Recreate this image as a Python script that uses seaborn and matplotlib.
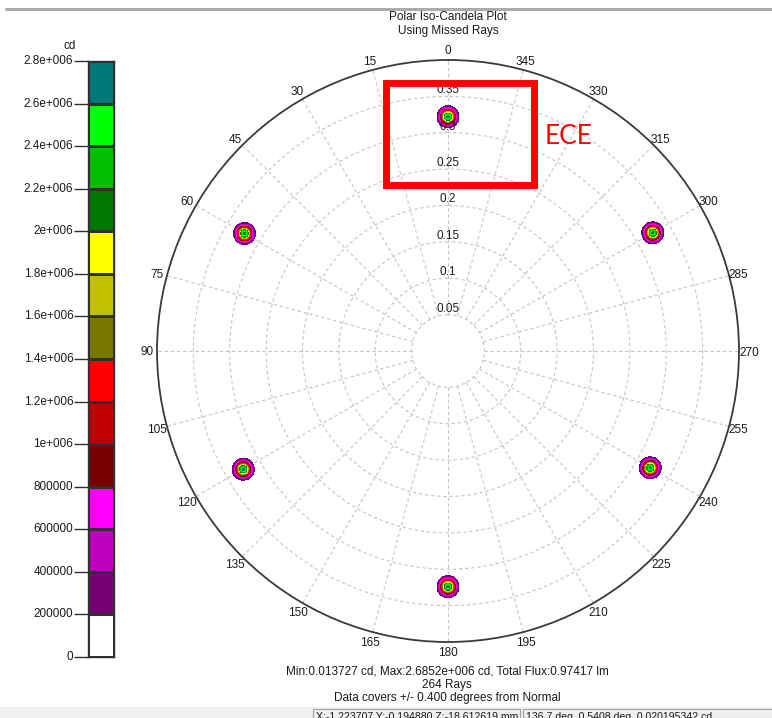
import numpy as np
import matplotlib
matplotlib.use("Agg")
import matplotlib.pyplot as plt
import seaborn as sns
from matplotlib.colors import ListedColormap, BoundaryNorm
from matplotlib.patches import Rectangle
from matplotlib.lines import Line2D

sns.set_theme(style="white")
plt.rcParams["font.family"] = ["Liberation Sans", "DejaVu Sans"]

# ---- data -------------------------------------------------------------
# candela bands (cd) and their fill colours
level_edges = [0, 200000, 400000, 600000, 800000, 1000000, 1200000, 1400000,
               1600000, 1800000, 2000000, 2200000, 2400000, 2600000, 2800000]
level_colors = ["#ffffff", "#740074", "#c000c0", "#ff00ff", "#780000", "#c00000",
                "#ff0000", "#787800", "#c0c000", "#ffff00", "#007800", "#00c000",
                "#00ff00", "#007878"]
level_labels = ["0", "200000", "400000", "600000", "800000", "1e+006", "1.2e+006",
                "1.4e+006", "1.6e+006", "1.8e+006", "2e+006", "2.2e+006",
                "2.4e+006", "2.6e+006", "2.8e+006"]

# six beam spots: azimuth (deg), polar angle from normal (deg), peak (cd), spot sigma (deg)
spot_azimuth = [0, 60, 120, 180, 240, 300]
spot_radius = [0.322, 0.323, 0.325, 0.324, 0.321, 0.325]
spot_peak = [2685200, 2660000, 2650000, 2670000, 2640000, 2655000]
spot_sigma = [0.0066, 0.0066, 0.0066, 0.0066, 0.0066, 0.0066]

ring_values = [0.05, 0.1, 0.15, 0.2, 0.25, 0.3, 0.35]
ring_labels = ["0.05", "0.1", "0.15", "0.2", "0.25", "0.3", "0.35"]
theta_ticks = list(range(0, 360, 15))
r_max = 0.4

title_lines = "Polar Iso-Candela Plot\nUsing Missed Rays"
summary_lines = ["Min:0.013727 cd, Max:2.6852e+006 cd, Total Flux:0.97417 lm",
                 "264 Rays",
                 "Data covers +/- 0.400 degrees from Normal"]
status_left = "X:-1.223707 Y:-0.194880 Z:-18.612619 mm"
status_right = "136.7 deg, 0.5408 deg, 0.020195342 cd"

# ---- figure -----------------------------------------------------------
W, H = 772, 718
fig = plt.figure(figsize=(W / 100, H / 100), dpi=100)
fig.patch.set_facecolor("white")


def fx(px):
    return px / W


def fy(py):
    return 1 - py / H


FS = 8.5
TXT = "#1a1a1a"

# polar iso-candela axes
ax = fig.add_axes([fx(157), fy(642), fx(582), 582 / H], projection="polar")
ax.set_theta_zero_location("N")
ax.set_theta_direction(1)
ax.set_ylim(0, r_max)
ax.set_facecolor("white")
ax.grid(False)
ax.set_yticks([])
ax.set_xticks(np.deg2rad(theta_ticks))
ax.set_xticklabels([str(t) for t in theta_ticks], fontsize=FS, color=TXT)
for lab in ax.get_xticklabels():
    lab.set_va("center_baseline")
ax.tick_params(axis="x", pad=-5.8)
ax.spines["polar"].set_color("#3a3a3a")
ax.spines["polar"].set_linewidth(1.3)

grid_kw = dict(color="#c4c4c4", linestyle=(0, (3, 2.5)), linewidth=0.8, zorder=1)
circ = np.linspace(0, 2 * np.pi, 721)
for rv in ring_values:
    ax.plot(circ, np.full_like(circ, rv), **grid_kw)
for t in theta_ticks:
    ax.plot([np.deg2rad(t)] * 2, [ring_values[0], r_max], **grid_kw)
for rv, lab in zip(ring_values, ring_labels):
    ax.text(0, rv, lab, ha="center", va="bottom", fontsize=FS, color=TXT, zorder=3)

# iso-candela contours of each spot
for az, r0, pk, sg in zip(spot_azimuth, spot_radius, spot_peak, spot_sigma):
    t0 = np.deg2rad(az)
    th = np.linspace(t0 - 0.08, t0 + 0.08, 240)
    rr = np.linspace(r0 - 0.03, r0 + 0.03, 240)
    TH, RR = np.meshgrid(th, rr)
    dx = RR * np.cos(TH) - r0 * np.cos(t0)
    dy = RR * np.sin(TH) - r0 * np.sin(t0)
    Z = pk * np.exp(-(dx ** 2 + dy ** 2) / (2 * sg ** 2))
    ax.contourf(TH, RR, Z, levels=level_edges[1:], colors=level_colors[1:], zorder=2)

# colour legend bar
cax = fig.add_axes([fx(88), fy(657), fx(26), 596 / H])
band_vals = np.array(level_edges[:-1], dtype=float)[::-1].reshape(-1, 1) + 1
cmap_bar = ListedColormap(level_colors)
norm_bar = BoundaryNorm(level_edges, cmap_bar.N)
sns.heatmap(band_vals, ax=cax, cmap=cmap_bar, norm=norm_bar, cbar=False,
            linewidths=0.8, linecolor="#303030", xticklabels=False)
for s in cax.spines.values():
    s.set_visible(True)
    s.set_color("#303030")
    s.set_linewidth(1.0)
cax.set_yticks(np.arange(len(level_edges)))
cax.set_yticklabels(level_labels[::-1], fontsize=FS, color=TXT, rotation=0)
cax.tick_params(axis="y", left=True, length=10, width=1.0, color="#303030", pad=0.5)
cax.set_xticks([])
fig.text(fx(70), fy(46), "cd", ha="center", va="center", fontsize=FS, color=TXT)

# titles and summary
fig.text(fx(448), fy(24), title_lines, ha="center", va="center", fontsize=FS,
         color=TXT, linespacing=1.25)
for i, line in enumerate(summary_lines):
    fig.text(fx(447), fy(671 + 13.7 * i), line, ha="center", va="center",
             fontsize=FS, color=TXT)

# window chrome: top rule and status bar
fig.add_artist(Line2D([fx(6), 1], [fy(9), fy(9)], color="#ababab", linewidth=2.2))
fig.add_artist(Rectangle((0, 0), 1, fy(707), transform=fig.transFigure,
                         facecolor="#f0f0f0", edgecolor="none"))
fig.add_artist(Rectangle((fx(313), 0), fx(207), 9 / H, transform=fig.transFigure,
                         facecolor="#f0f0f0", edgecolor="#a0a0a0", linewidth=0.8))
fig.add_artist(Rectangle((fx(523), 0), fx(260), 9 / H, transform=fig.transFigure,
                         facecolor="#f0f0f0", edgecolor="#a0a0a0", linewidth=0.8))
fig.text(fx(316), fy(719.5), status_left, ha="left", va="baseline", fontsize=7.6, color=TXT)
fig.text(fx(526), fy(719.5), status_right, ha="left", va="baseline", fontsize=7.6, color=TXT)

# highlighted region label
fig.add_artist(Rectangle((fx(385.5), fy(184.5)), fx(148), 102 / H, transform=fig.transFigure,
                         facecolor="none", edgecolor="#ff0000", linewidth=5.0))
fig.text(fx(545), fy(137), "ECE", ha="left", va="center", fontsize=19,
         color="#ff0000", family=["Lato", "DejaVu Sans"])

fig.savefig("out.png", dpi=100)
